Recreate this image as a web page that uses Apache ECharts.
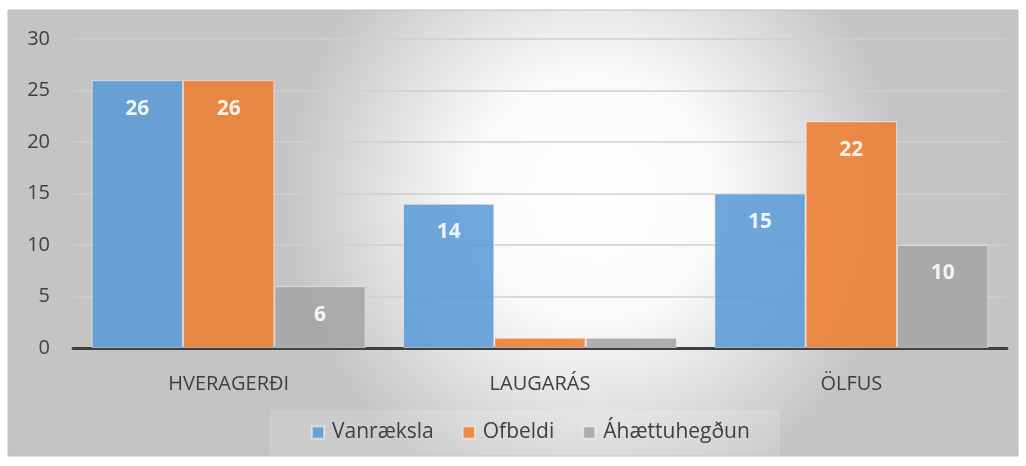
<!DOCTYPE html>
<html><head><meta charset="utf-8">
<script src="https://cdn.jsdelivr.net/npm/echarts@6/dist/echarts.min.js"></script>
<style>html,body{margin:0;padding:0;background:#fff}#c{width:1026px;height:466px}</style>
</head><body><div id="c"></div>
<script>
const categories = ['HVERAGERÐI', 'LAUGARÁS', 'ÖLFUS'];
const seriesNames = ['Vanræksla', 'Ofbeldi', 'Áhættuhegðun'];
const vanraeksla = [26, 14, 15];
const ofbeldi = [26, 1, 22];
const ahaettuhegdun = [6, 1, 10];
const yTicks = [0, 5, 10, 15, 20, 25, 30];
const colors = ['#5b9bd5', '#ed7d31', '#a5a5a5'];

const font = '"Open Sans", "Noto Sans", sans-serif';
const chart = echarts.init(document.getElementById('c'), null, {renderer: 'canvas'});
function mk(name, data, i) {
  return {
    name: name, type: 'bar', data: data,
    barGap: '0%', barCategoryGap: '12%',
    itemStyle: {color: colors[i], opacity: 0.88, borderColor: 'rgba(255,255,255,0.55)', borderWidth: 1},
    label: {show: true, position: 'insideTop', distance: 18, color: '#fff', fontWeight: 'bold',
      fontSize: 21, fontFamily: font, formatter: p => p.value >= 3 ? String(p.value) : ''},
    emphasis: {disabled: true}
  };
}
chart.setOption({
  animation: false,
  color: colors,
  graphic: [
    {type: 'rect', z: -10, shape: {x: 8, y: 10, width: 1010, height: 446},
     style: {fill: new echarts.graphic.RadialGradient(0.58, 0.42, 0.7, [
       {offset: 0, color: '#ffffff'}, {offset: 0.4, color: '#fafafa'}, {offset: 1, color: '#c4c4c4'}]),
       stroke: '#bfbfbf', lineWidth: 1}},
    {type: 'rect', z: -9, shape: {x: 270, y: 410, width: 510, height: 46},
     style: {fill: 'rgba(255,255,255,0.15)'}}
  ],
  grid: {left: 73, right: 19, top: 39, bottom: 118, containLabel: false},
  legend: {
    data: seriesNames, bottom: 18, left: 306, itemWidth: 12, itemHeight: 12, itemGap: 28,
    icon: 'rect',
    textStyle: {fontSize: 21, color: '#404040', fontFamily: font, padding: [0, 0, 0, 3]}
  },
  xAxis: {
    type: 'category', data: categories,
    axisLine: {lineStyle: {color: '#404040', width: 3}},
    axisTick: {show: false},
    axisLabel: {fontSize: 20, color: '#404040', fontFamily: font, margin: 26}
  },
  yAxis: {
    type: 'value', min: 0, max: 30, interval: 5,
    axisLine: {show: false}, axisTick: {show: false},
    splitLine: {lineStyle: {color: '#cfcfcf', width: 1.5}},
    axisLabel: {fontSize: 20, color: '#404040', fontFamily: font, margin: 23,
      formatter: v => yTicks.includes(v) ? String(v) : ''}
  },
  series: [mk(seriesNames[0], vanraeksla, 0), mk(seriesNames[1], ofbeldi, 1), mk(seriesNames[2], ahaettuhegdun, 2)]
});
</script></body></html>
